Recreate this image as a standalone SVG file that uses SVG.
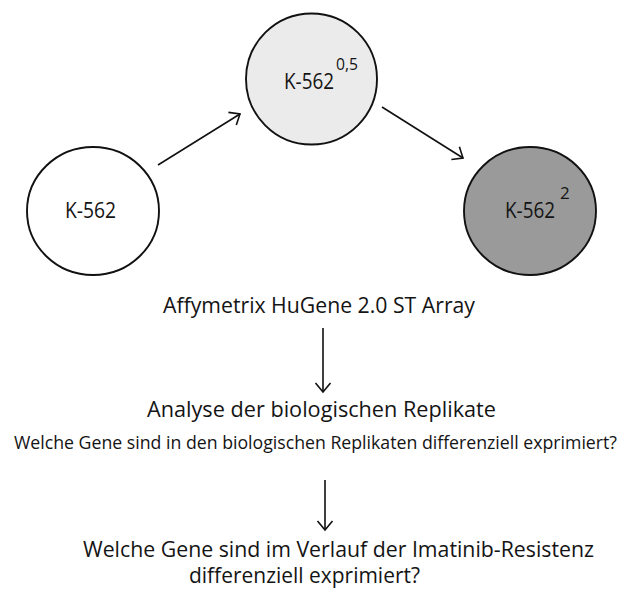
<svg xmlns="http://www.w3.org/2000/svg" width="627" height="591" viewBox="0 0 627 591">
<defs>
<style>
.node{stroke:#111;stroke-width:1.9}
.t{font-family:"Open Sans","Liberation Sans",sans-serif;fill:#141414}
.conn{stroke:#111;stroke-width:1.6;fill:none}
</style>
<marker id="ah" markerUnits="userSpaceOnUse" markerWidth="20" markerHeight="20" viewBox="-12 -10 14 20" refX="0" refY="0" orient="auto">
<path d="M-9,-7.5 L0,0 L-9,7.5" fill="none" stroke="#111" stroke-width="1.6"/>
</marker>
</defs>
<rect width="627" height="591" fill="#fff"/>
<g id="n-k562">
<ellipse class="node" cx="93" cy="211" rx="66" ry="64" fill="#fff"/>
<text class="t" x="65" y="218" font-size="21" textLength="51" lengthAdjust="spacingAndGlyphs">K-562</text>
</g>
<g id="n-k562-05">
<ellipse class="node" cx="311.5" cy="79" rx="65.5" ry="65.5" fill="#ebebeb"/>
<text class="t" x="284" y="89" font-size="21" textLength="50" lengthAdjust="spacingAndGlyphs">K-562</text>
<text class="t" x="336" y="70" font-size="17" textLength="22" lengthAdjust="spacingAndGlyphs">0,5</text>
</g>
<g id="n-k562-2">
<ellipse class="node" cx="530" cy="211" rx="66" ry="64" fill="#9a9a9a"/>
<text class="t" x="505" y="218" font-size="21" textLength="50" lengthAdjust="spacingAndGlyphs">K-562</text>
<text class="t" x="560" y="199" font-size="17">2</text>
</g>
<g id="n-array">
<text class="t" x="163" y="313" font-size="21.5" textLength="312" lengthAdjust="spacingAndGlyphs">Affymetrix HuGene 2.0 ST Array</text>
</g>
<g id="n-analyse">
<text class="t" x="147" y="417" font-size="21.5" textLength="349" lengthAdjust="spacingAndGlyphs">Analyse der biologischen Replikate</text>
<text class="t" x="14" y="449" font-size="18" textLength="603" lengthAdjust="spacingAndGlyphs">Welche Gene sind in den biologischen Replikaten differenziell exprimiert?</text>
</g>
<g id="n-question">
<text class="t" x="83" y="557" font-size="21" textLength="511" lengthAdjust="spacingAndGlyphs">Welche Gene sind im Verlauf der Imatinib-Resistenz</text>
<text class="t" x="189" y="583" font-size="21" textLength="231" lengthAdjust="spacingAndGlyphs">differenziell exprimiert?</text>
</g>
<g id="connectors">
<line class="conn" x1="158" y1="165" x2="240" y2="114" marker-end="url(#ah)"/>
<line class="conn" x1="382" y1="107" x2="463" y2="158" marker-end="url(#ah)"/>
<line class="conn" x1="323" y1="328" x2="323" y2="392" marker-end="url(#ah)"/>
<line class="conn" x1="325" y1="480" x2="325" y2="530" marker-end="url(#ah)"/>
</g>
</svg>
